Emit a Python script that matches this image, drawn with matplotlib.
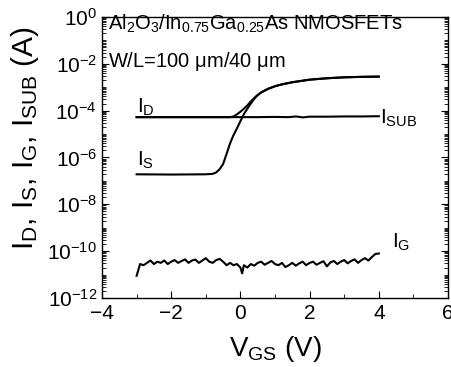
#!/usr/bin/env python3
import numpy as np
import matplotlib.pyplot as plt
from matplotlib.ticker import LogLocator, FixedLocator, NullFormatter

plt.rcParams['font.family'] = ['Liberation Sans', 'DejaVu Sans']
plt.rcParams['mathtext.fontset'] = 'custom'
plt.rcParams['mathtext.rm'] = 'Liberation Sans'
plt.rcParams['mathtext.it'] = 'Liberation Sans:italic'
plt.rcParams['mathtext.default'] = 'regular'

# Data, currents as log10(A)
vd = [-3.0, -2.0, -1.0, -0.5, -0.3, -0.2, -0.1, 0.0, 0.1, 0.2, 0.3, 0.4, 0.5,
      0.6, 0.8, 1.0, 1.2, 1.5, 2.0, 2.5, 3.0, 3.5, 4.0]
log_id = [-4.28, -4.28, -4.28, -4.28, -4.28, -4.25, -4.16, -4.05, -3.92, -3.78,
          -3.61, -3.46, -3.33, -3.22, -3.07, -2.96, -2.88, -2.79, -2.68, -2.62,
          -2.58, -2.56, -2.55]

vs = [-3.0, -2.0, -1.0, -0.8, -0.7, -0.6, -0.5, -0.4, -0.3, -0.2, -0.1, 0.0,
      0.1, 0.2, 0.3, 0.4, 0.5, 0.6, 0.8, 1.0, 1.2, 1.5, 2.0, 2.5, 3.0, 3.5, 4.0]
log_is = [-6.72, -6.73, -6.72, -6.70, -6.64, -6.50, -6.28, -5.85, -5.40, -5.05,
          -4.76, -4.45, -4.15, -3.92, -3.70, -3.50, -3.34, -3.23, -3.07, -2.96,
          -2.88, -2.79, -2.68, -2.62, -2.58, -2.56, -2.55]

vsub = [-3.0, -2.0, -1.0, 0.0, 0.5, 1.0, 1.4, 1.6, 1.8, 2.0, 2.5, 3.0, 3.5, 4.0]
log_isub = [-4.28, -4.28, -4.28, -4.28, -4.28, -4.27, -4.28, -4.25, -4.29, -4.26,
            -4.26, -4.25, -4.25, -4.24]

vg = [-3.0, -2.9, -2.8, -2.7, -2.6, -2.5, -2.4, -2.3, -2.2, -2.1, -2.0, -1.9,
      -1.8, -1.7, -1.6, -1.5, -1.4, -1.3, -1.2, -1.1, -1.0, -0.9, -0.8, -0.7,
      -0.6, -0.5, -0.4, -0.3, -0.2, -0.1, 0.0, 0.05, 0.1, 0.2, 0.3, 0.4, 0.5,
      0.6, 0.7, 0.8, 0.9, 1.0, 1.1, 1.2, 1.3, 1.4, 1.5, 1.6, 1.7, 1.8, 1.9,
      2.0, 2.1, 2.2, 2.3, 2.4, 2.5, 2.6, 2.7, 2.8, 2.9, 3.0, 3.1, 3.2, 3.3,
      3.4, 3.5, 3.6, 3.7, 3.8, 3.9, 4.0]
log_ig = [-11.05, -10.55, -10.6, -10.5, -10.4, -10.55, -10.45, -10.5, -10.4,
          -10.55, -10.45, -10.38, -10.5, -10.42, -10.35, -10.5, -10.4, -10.36,
          -10.5, -10.4, -10.3, -10.45, -10.5, -10.38, -10.33, -10.45, -10.6,
          -10.5, -10.6, -10.55, -10.7, -10.95, -10.6, -10.7, -10.55, -10.62,
          -10.5, -10.45, -10.58, -10.5, -10.42, -10.55, -10.6, -10.5, -10.68,
          -10.6, -10.5, -10.62, -10.52, -10.45, -10.6, -10.5, -10.45, -10.58,
          -10.5, -10.43, -10.65, -10.48, -10.42, -10.55, -10.45, -10.38, -10.52,
          -10.42, -10.35, -10.5, -10.38, -10.3, -10.4, -10.25, -10.12, -10.1]

fig = plt.figure(figsize=(4.52, 3.67), dpi=100)
ax = fig.add_axes([0.2257, 0.188, 0.7655, 0.766])

lw = 1.5
ax.plot(vsub, 10.0 ** np.array(log_isub), color='k', lw=lw)
ax.plot(vd, 10.0 ** np.array(log_id), color='k', lw=lw)
ax.plot(vs, 10.0 ** np.array(log_is), color='k', lw=lw)
ax.plot(vg, 10.0 ** np.array(log_ig), color='k', lw=lw)

ax.set_yscale('log')
ax.set_xlim(-4, 6)
ax.set_ylim(1e-12, 1)
ax.set_xticks([-4, -2, 0, 2, 4, 6])
ax.xaxis.set_minor_locator(FixedLocator([-3, -1, 1, 3, 5]))
ax.set_yticks([10.0 ** e for e in range(-12, 1, 2)])
ax.yaxis.set_minor_locator(LogLocator(base=10, subs=np.arange(1, 10), numticks=100))
ax.yaxis.set_minor_formatter(NullFormatter())

ax.tick_params(which='both', direction='in', top=False, right=True, labelsize=15)
ax.tick_params(which='major', length=5, width=0.8)
ax.tick_params(which='minor', length=3, width=0.6)
ax.tick_params(axis='x', pad=4)
for s in ax.spines.values():
    s.set_linewidth(1.0)

ax.set_xlabel(r'V$_\mathrm{GS}$ (V)', fontsize=20, labelpad=8)
ax.set_ylabel(r'I$_\mathrm{D}$, I$_\mathrm{S}$, I$_\mathrm{G}$, I$_\mathrm{SUB}$ (A)',
              fontsize=21.5)
ax.yaxis.set_label_coords(-0.175, 0.57)

ax.text(0.017, 0.954, r'Al$_2$O$_3$/In$_{0.75}$Ga$_{0.25}$As NMOSFETs',
        transform=ax.transAxes, fontsize=14.5, ha='left', va='baseline')
ax.text(0.017, 0.822, r'W/L=100 $\mu$m/40 $\mu$m',
        transform=ax.transAxes, fontsize=14.5, ha='left', va='baseline')

ax.text(-3.0, 10 ** -4.07, r'I$_\mathrm{D}$', fontsize=15, ha='left', va='baseline')
ax.text(-3.0, 10 ** -6.34, r'I$_\mathrm{S}$', fontsize=15, ha='left', va='baseline')
ax.text(4.03, 10 ** -4.54, r'I$_\mathrm{SUB}$', fontsize=15, ha='left', va='baseline')
ax.text(4.38, 10 ** -9.85, r'I$_\mathrm{G}$', fontsize=15, ha='left', va='baseline')

fig.savefig('out.png', dpi=100)
